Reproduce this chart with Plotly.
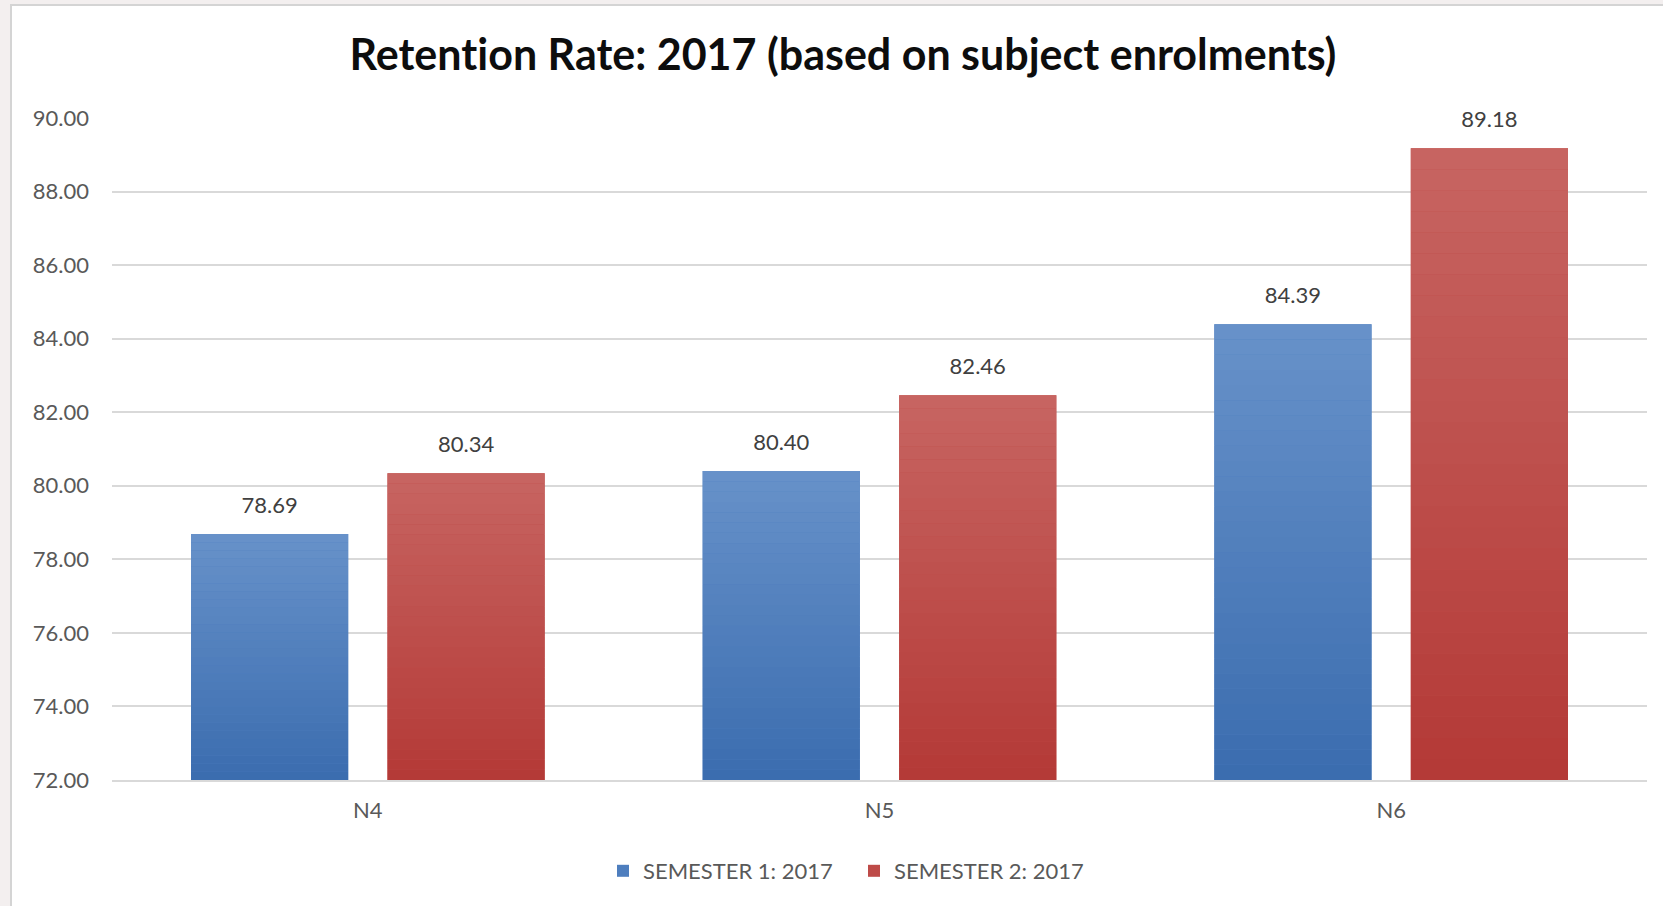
import plotly.graph_objects as go

# Retention rate per level, two semesters of 2017
categories = ["N4", "N5", "N6"]
semester1 = [78.69, 80.40, 84.39]
semester2 = [80.34, 82.46, 89.18]
series_names = ["SEMESTER 1: 2017", "SEMESTER 2: 2017"]
y_ticks = [72, 74, 76, 78, 80, 82, 84, 86, 88, 90]

Y_MIN, Y_MAX = 72, 90
FONT = "Lato"
GREY_TEXT = "#595959"

# bottom / top colours of each series' vertical gradient
palette = {
    "s1": ((0x3B, 0x6D, 0xAF), (0x67, 0x91, 0xC9)),
    "s2": ((0xB4, 0x3A, 0x37), (0xC7, 0x64, 0x61)),
}
mid_colour = {"s1": "#4E7EBE", "s2": "#BE4B48"}
N_STEPS = 30


def mix(c0, c1, t):
    return "rgb({},{},{})".format(*[round(a + (b - a) * t) for a, b in zip(c0, c1)])


fig = go.Figure()

series = [("s1", series_names[0], semester1), ("s2", series_names[1], semester2)]

# the real bars (legend entries)
for key, name, vals in series:
    fig.add_trace(go.Bar(
        x=categories, y=[v - Y_MIN for v in vals], base=Y_MIN,
        name=name, offsetgroup=key, alignmentgroup="a",
        marker=dict(color=mid_colour[key], line=dict(width=0)),
        hovertemplate="%{x}: %{customdata:.2f}<extra>" + name + "</extra>",
        customdata=vals,
    ))

# gradient shading laid over each bar in thin horizontal bands
for key, name, vals in series:
    c_bot, c_top = palette[key]
    for k in range(N_STEPS):
        t = k / (N_STEPS - 1)
        fig.add_trace(go.Bar(
            x=categories,
            y=[(v - Y_MIN) / N_STEPS for v in vals],
            base=[Y_MIN + (v - Y_MIN) * k / N_STEPS for v in vals],
            offsetgroup=key, alignmentgroup="a",
            marker=dict(color=mix(c_bot, c_top, t), line=dict(width=0)),
            showlegend=False, hoverinfo="skip",
        ))

# value labels above the bars
for key, name, vals in series:
    fig.add_trace(go.Scatter(
        x=categories, y=vals, mode="markers+text",
        text=[f"{v:.2f}" for v in vals],
        textposition="top center",
        textfont=dict(family=FONT, size=22, color="#404040"),
        offsetgroup=key, alignmentgroup="a",
        marker=dict(size=23, color="rgba(0,0,0,0)"),
        showlegend=False, hoverinfo="skip", cliponaxis=False,
    ))

L, R, T, B = 112, 16, 118, 126
W, H = 1663, 906
pw, ph = W - L - R, H - T - B


def px_x(px):
    return (px - L) / pw


def px_y(py):
    return (H - B - py) / ph


fig.update_layout(
    width=W, height=H,
    margin=dict(l=L, r=R, t=T, b=B),
    paper_bgcolor="#F3EFEF",
    plot_bgcolor="rgba(0,0,0,0)",
    barmode="group", bargap=0.232, bargroupgap=0.2,
    scattermode="group", scattergap=0.232,
    font=dict(family=FONT, color=GREY_TEXT),
    title=dict(
        text="<b>Retent\u200cion Rate: 2017 (based on subject enrolments)</b>",
        font=dict(family=FONT, size=43, color="#0D0D0D"),
        x=843 / W, xref="container", xanchor="center",
        y=1 - 55 / H, yref="container", yanchor="middle",
    ),
    showlegend=True,
    legend=dict(
        orientation="h", x=px_x(854), xanchor="center",
        y=px_y(871), yanchor="middle",
        font=dict(family=FONT, size=22, color=GREY_TEXT),
        bgcolor="rgba(0,0,0,0)", itemwidth=30, tracegroupgap=0,
        entrywidth=206, entrywidthmode="pixels",
    ),
    shapes=[dict(
        type="rect", xref="paper", yref="paper", layer="below",
        x0=px_x(11), x1=px_x(W + 20), y0=px_y(H + 20), y1=px_y(5),
        fillcolor="white", line=dict(color="#D4D4D4", width=2),
    )],
)

fig.update_xaxes(
    type="category", showgrid=False, zeroline=False,
    showline=True, linecolor="#D9D9D9", linewidth=1.5,
    tickfont=dict(family=FONT, size=22, color=GREY_TEXT),
    ticks="outside", ticklen=10, tickcolor="rgba(0,0,0,0)",
)
fig.update_yaxes(
    range=[Y_MIN, Y_MAX], tickvals=y_ticks,
    ticktext=[f"{v:.2f}" for v in y_ticks],
    showgrid=True, gridcolor="#D9D9D9", gridwidth=1.5, zeroline=False,
    tickfont=dict(family=FONT, size=22, color=GREY_TEXT),
    ticklabelstandoff=22,
)

fig.write_html("out.html")
